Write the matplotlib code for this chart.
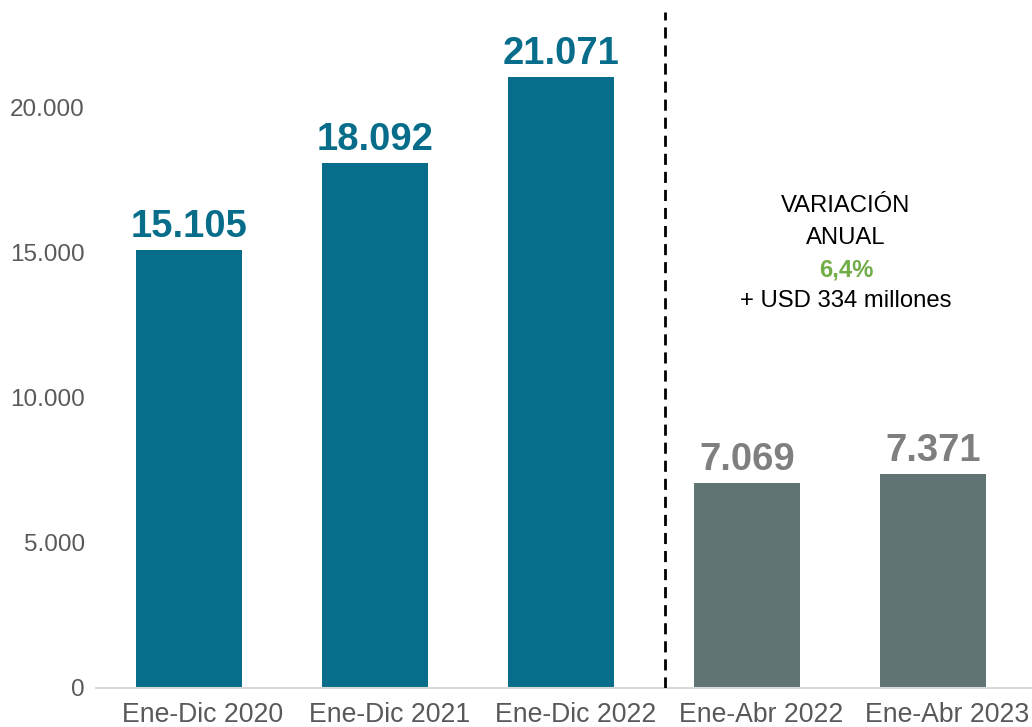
import matplotlib
matplotlib.use("Agg")
from matplotlib import pyplot as plt

categories = ["Ene-Dic 2020", "Ene-Dic 2021", "Ene-Dic 2022", "Ene-Abr 2022", "Ene-Abr 2023"]
values = [15105, 18092, 21071, 7069, 7371]
value_labels = ["15.105", "18.092", "21.071", "7.069", "7.371"]
yticks = [0, 5000, 10000, 15000, 20000]
ytick_labels = ["0", "5.000", "10.000", "15.000", "20.000"]

TEAL = "#076D8A"
GREY = "#5F7473"
bar_colors = [TEAL, TEAL, TEAL, GREY, GREY]
label_colors = [TEAL, TEAL, TEAL, "#7F7F7F", "#7F7F7F"]

plt.rcParams["font.family"] = ["Liberation Sans", "DejaVu Sans"]

fig = plt.figure(figsize=(10.32, 7.27), dpi=100, facecolor="w")
ax = fig.add_axes([96 / 1032, 39 / 727, 936 / 1032, 688 / 727])

x = list(range(len(categories)))
ax.bar(x, values, width=0.57, color=bar_colors, zorder=2)

for xi, v, lab, c in zip(x, values, value_labels, label_colors):
    ax.text(xi, v + 180, lab, ha="center", va="bottom", fontsize=27.5,
            fontweight="bold", color=c)

# separator between annual and Jan-Apr bars
ax.axvline(2.56, ymin=0, ymax=0.982, color="black", linestyle=(0, (4, 2.5)),
           linewidth=2, zorder=3)

# annotation
ax.text(3.53, 16630, "VARIACIÓN", ha="center", va="center", fontsize=17.2, color="black")
ax.text(3.53, 15530, "ANUAL", ha="center", va="center", fontsize=17.2, color="black")
ax.text(3.53, 14430, "6,4%", ha="center", va="center", fontsize=17.2,
        fontweight="bold", color="#70AD47")
ax.text(3.53, 13330, "+ USD 334 millones", ha="center", va="center", fontsize=17.2,
        color="black")

ax.set_xlim(-0.5, 4.53)
ax.set_ylim(0, 23724)
# category labels sit a little right of the bar centres in the original
ax.set_xticks([xi + 0.075 for xi in x])
ax.set_xticklabels(categories, fontsize=19.2, color="#595959")
ax.set_yticks(yticks)
ax.set_yticklabels(ytick_labels, fontsize=17.5, color="#595959")
ax.tick_params(axis="both", length=0)
ax.tick_params(axis="x", pad=10)
ax.tick_params(axis="y", pad=8)

for side in ["top", "right", "left"]:
    ax.spines[side].set_visible(False)
ax.spines["bottom"].set_color("#D9D9D9")
ax.spines["bottom"].set_linewidth(1.5)

fig.savefig("out.png", dpi=100, facecolor="w")
